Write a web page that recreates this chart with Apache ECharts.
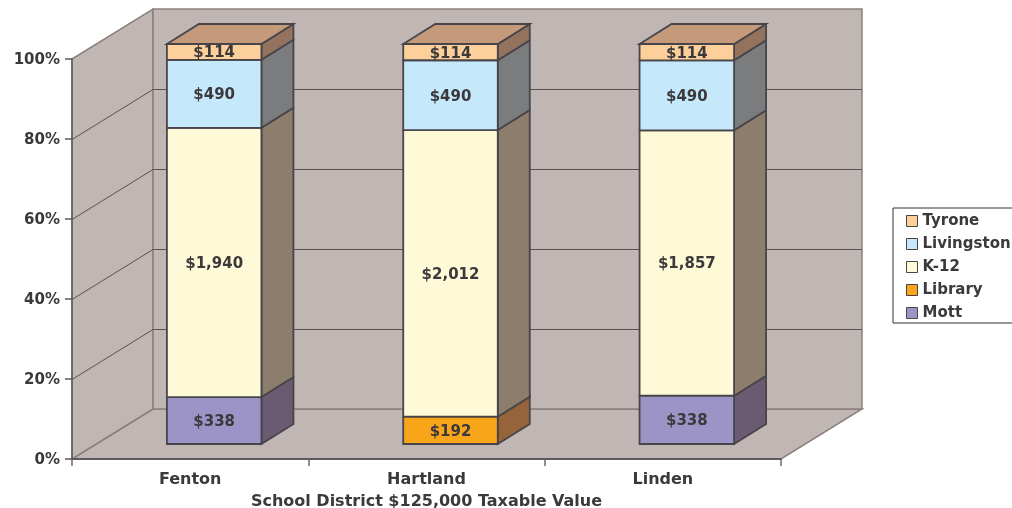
<!DOCTYPE html>
<html>
<head>
<meta charset="utf-8">
<style>
  html, body { margin: 0; padding: 0; background: #fff; overflow: hidden; }
  #chart { width: 1012px; height: 508px; }
</style>
<script src="https://cdn.jsdelivr.net/npm/echarts@6/dist/echarts.min.js"></script>
</head>
<body>
<div id="chart"></div>
<script>
// chart values
const categories = ['Fenton', 'Hartland', 'Linden'];
const mott = [338, 0, 338];
const library = [0, 192, 0];
const k12 = [1940, 2012, 1857];
const livingston = [490, 490, 490];
const tyrone = [114, 114, 114];
const yTicks = [0, 20, 40, 60, 80, 100];
const legendOrder = ['Tyrone', 'Livingston', 'K-12', 'Library', 'Mott'];

// fake 3d, in pixels
const WALL_DX = 81, WALL_DY = -50;
const INSET_DX = 24, INSET_DY = -15;
const BAR_DX = 32, BAR_DY = -20;
const BAR_RATIO = 0.4;

const WALL = '#c0b6b3', WALL_EDGE = '#8b807c', GRID_LINE = '#5b5251', BAR_EDGE = '#47454a';
const TEXT = '#3b393c';
const FONT = 'DejaVu Sans';

const stacks = [
  { name: 'Mott', values: mott, front: '#9c93c6', side: '#6a5b72' },
  { name: 'Library', values: library, front: '#f9a51a', side: '#96633a' },
  { name: 'K-12', values: k12, front: '#fef9d7', side: '#8d7d6d' },
  { name: 'Livingston', values: livingston, front: '#c5e8fa', side: '#7a7c7e' },
  { name: 'Tyrone', values: tyrone, front: '#fccf9b', side: '#94735e', top: '#c49a7b' }
];

const totals = categories.map((c, i) => stacks.reduce((sum, s) => sum + s.values[i], 0));

function line(points, color, width) {
  return { type: 'polyline', shape: { points }, style: { stroke: color, lineWidth: width, fill: null } };
}

function poly(points, fill) {
  return { type: 'polygon', shape: { points }, style: { fill, stroke: BAR_EDGE, lineWidth: 1.8 } };
}

function renderWalls(params, api) {
  const left = params.coordSys.x;
  const right = left + params.coordSys.width;
  const y0 = api.coord([0, 0])[1];
  const y100 = api.coord([0, 100])[1];
  const fill = { fill: WALL, stroke: WALL_EDGE, lineWidth: 1.5 };
  const children = [
    { type: 'polygon', shape: { points: [[left, y0], [left + WALL_DX, y0 + WALL_DY], [right + WALL_DX, y0 + WALL_DY], [right, y0]] }, style: fill },
    { type: 'polygon', shape: { points: [[left, y0], [left, y100], [left + WALL_DX, y100 + WALL_DY], [left + WALL_DX, y0 + WALL_DY]] }, style: fill },
    { type: 'rect', shape: { x: left + WALL_DX, y: y100 + WALL_DY, width: right - left, height: y0 - y100 }, style: fill }
  ];
  yTicks.slice(1, -1).forEach(t => {
    // half pixel so the thin line stays crisp
    const y = api.coord([0, t])[1] + 0.5;
    children.push(line([[left, y], [left + WALL_DX, y + WALL_DY], [right + WALL_DX, y + WALL_DY]], GRID_LINE, 1));
  });
  return { type: 'group', children };
}

function renderSegment(stack) {
  return function (params, api) {
    const raw = api.value(3);
    if (!raw) return null;
    const low = api.coord([api.value(0), api.value(1)]);
    const high = api.coord([api.value(0), api.value(2)]);
    const w = api.size([1, 0])[0] * BAR_RATIO;
    const x0 = low[0] - w / 2 + INSET_DX;
    const x1 = x0 + w;
    const yb = low[1] + INSET_DY;
    const yt = high[1] + INSET_DY;
    const children = [
      poly([[x1, yb], [x1 + BAR_DX, yb + BAR_DY], [x1 + BAR_DX, yt + BAR_DY], [x1, yt]], stack.side),
      poly([[x0, yb], [x1, yb], [x1, yt], [x0, yt]], stack.front),
      {
        type: 'text',
        style: {
          text: '$' + raw.toLocaleString('en-US'),
          x: (x0 + x1) / 2,
          y: (yb + yt) / 2 + 1.5,
          align: 'center',
          verticalAlign: 'middle',
          fill: TEXT,
          font: 'bold 15px "' + FONT + '"'
        }
      }
    ];
    if (stack.top) {
      children.push(poly([[x0, yt], [x1, yt], [x1 + BAR_DX, yt + BAR_DY], [x0 + BAR_DX, yt + BAR_DY]], stack.top));
    }
    return { type: 'group', children };
  };
}

// percent stacked, so each column fills 0-100
const running = categories.map(() => 0);
const barSeries = stacks.map(stack => {
  const data = categories.map((c, i) => {
    const start = running[i];
    running[i] += stack.values[i] / totals[i] * 100;
    return [i, start, running[i], stack.values[i]];
  });
  return {
    name: stack.name,
    type: 'custom',
    coordinateSystem: 'cartesian2d',
    renderItem: renderSegment(stack),
    encode: { x: 0, y: [1, 2] },
    itemStyle: { color: stack.front },
    data
  };
});

const chart = echarts.init(document.getElementById('chart'));
chart.setOption({
  animation: false,
  backgroundColor: '#fff',
  grid: { left: 72, right: 231, top: 59, bottom: 49, outerBoundsMode: 'none' },
  xAxis: {
    type: 'category',
    data: categories,
    z: 5,
    name: 'School District $125,000 Taxable Value',
    nameLocation: 'middle',
    nameGap: 35,
    nameTextStyle: { color: TEXT, fontFamily: FONT, fontWeight: 'bold', fontSize: 16 },
    axisLine: { lineStyle: { color: BAR_EDGE, width: 1.5 } },
    axisTick: { show: true, length: 7, lineStyle: { color: '#6e6a6a', width: 1.5 } },
    axisLabel: { color: TEXT, fontFamily: FONT, fontWeight: 'bold', fontSize: 16, margin: 13 }
  },
  yAxis: {
    type: 'value',
    min: 0,
    max: 100,
    interval: 20,
    z: 5,
    splitLine: { show: false },
    axisLine: { show: true, lineStyle: { color: '#5e5a5a', width: 1.5 } },
    axisTick: { show: true, length: 7, lineStyle: { color: '#5e5a5a', width: 1.5 } },
    axisLabel: {
      margin: 12,
      formatter: '{p|{value}%}',
      rich: { p: { color: TEXT, fontFamily: FONT, fontWeight: 'bold', fontSize: 15, padding: [3, 0, 0, 0] } }
    }
  },
  legend: {
    data: legendOrder,
    orient: 'vertical',
    left: 893,
    top: 208,
    padding: [4, 20, 1, 13],
    itemWidth: 11,
    itemHeight: 11,
    itemGap: 5,
    icon: 'rect',
    itemStyle: { borderColor: BAR_EDGE, borderWidth: 1 },
    backgroundColor: '#fff',
    borderColor: '#333',
    borderWidth: 1,
    borderRadius: 0,
    selectedMode: false,
    textStyle: { color: TEXT, fontFamily: FONT, fontWeight: 'bold', fontSize: 15, lineHeight: 18 }
  },
  series: [
    { type: 'custom', name: 'walls', coordinateSystem: 'cartesian2d', renderItem: renderWalls, silent: true, z: 1, data: [[0, 0]] }
  ].concat(barSeries.map(s => Object.assign(s, { z: 2 })))
});
</script>
</body>
</html>
